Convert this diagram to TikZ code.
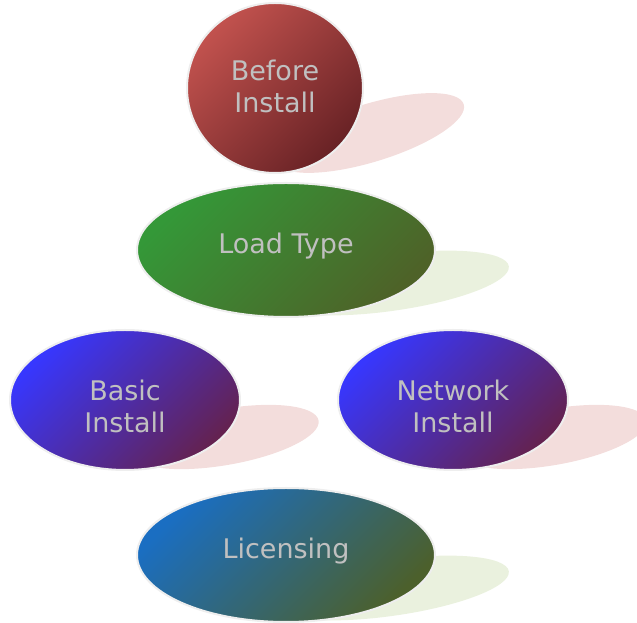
\documentclass[tikz,border=0pt]{standalone}
\usepackage{fontspec}
\setmainfont{DejaVu Sans}
\usetikzlibrary{shapes.geometric}
\definecolor{redA}{RGB}{194,82,78}
\definecolor{redB}{RGB}{104,34,37}
\definecolor{greenA}{RGB}{52,152,56}
\definecolor{greenB}{RGB}{78,98,40}
\definecolor{blueA}{RGB}{55,55,255}
\definecolor{blueB}{RGB}{100,34,80}
\definecolor{licA}{RGB}{26,110,194}
\definecolor{licB}{RGB}{76,96,44}
\definecolor{pinkSh}{RGB}{243,221,220}
\definecolor{greenSh}{RGB}{234,241,222}
\definecolor{txt}{RGB}{192,192,192}
\definecolor{rim}{RGB}{238,238,238}
\tikzset{
  bubble/.style={ellipse, draw=rim, line width=2pt, inner sep=0pt},
  lbl/.style={inner sep=0pt, text=txt, align=center, font=\fontsize{27}{32}\selectfont},
  redgrad/.style={top color=redA, bottom color=redB, shading angle=45},
  greengrad/.style={top color=greenA, bottom color=greenB, shading angle=45},
  bluegrad/.style={top color=blueA, bottom color=blueB, shading angle=45},
  licgrad/.style={top color=licA, bottom color=licB, shading angle=45},
}
\begin{document}
\begin{tikzpicture}[x=1pt,y=1pt]
\useasboundingbox (0,0) rectangle (637,623);
\clip (0,0) rectangle (637,623);
% shadows
\fill[pinkSh, rotate around={17:(370,490)}] (370,490) ellipse (98 and 29);
\fill[greenSh, rotate around={8:(390,340)}] (390,340) ellipse (120 and 28);
\fill[pinkSh, rotate around={10:(225,186)}] (225,186) ellipse (95 and 28);
\fill[pinkSh, rotate around={10:(553,186)}] (553,186) ellipse (95 and 28);
\fill[greenSh, rotate around={8:(390,35)}] (390,35) ellipse (120 and 28);
% bubbles
\node[bubble, redgrad, minimum width=176pt, minimum height=170pt] (before) at (275,535) {};
\node[bubble, greengrad, minimum width=298pt, minimum height=134pt] (load) at (286,373) {};
\node[bubble, bluegrad, minimum width=230pt, minimum height=140pt] (basic) at (125,223) {};
\node[bubble, bluegrad, minimum width=230pt, minimum height=140pt] (network) at (453,223) {};
\node[bubble, licgrad, minimum width=298pt, minimum height=134pt] (lic) at (286,68) {};
% labels
\node[lbl] (beforeT) at ([yshift=2pt]before.center) {Before\\Install};
\node[lbl] (loadT) at ([yshift=4pt]load.center) {Load Type};
\node[lbl] (basicT) at ([yshift=-6pt]basic.center) {Basic\\Install};
\node[lbl] (networkT) at ([yshift=-6pt]network.center) {Network\\Install};
\node[lbl] (licT) at ([yshift=4pt]lic.center) {Licensing};
\end{tikzpicture}
\end{document}
